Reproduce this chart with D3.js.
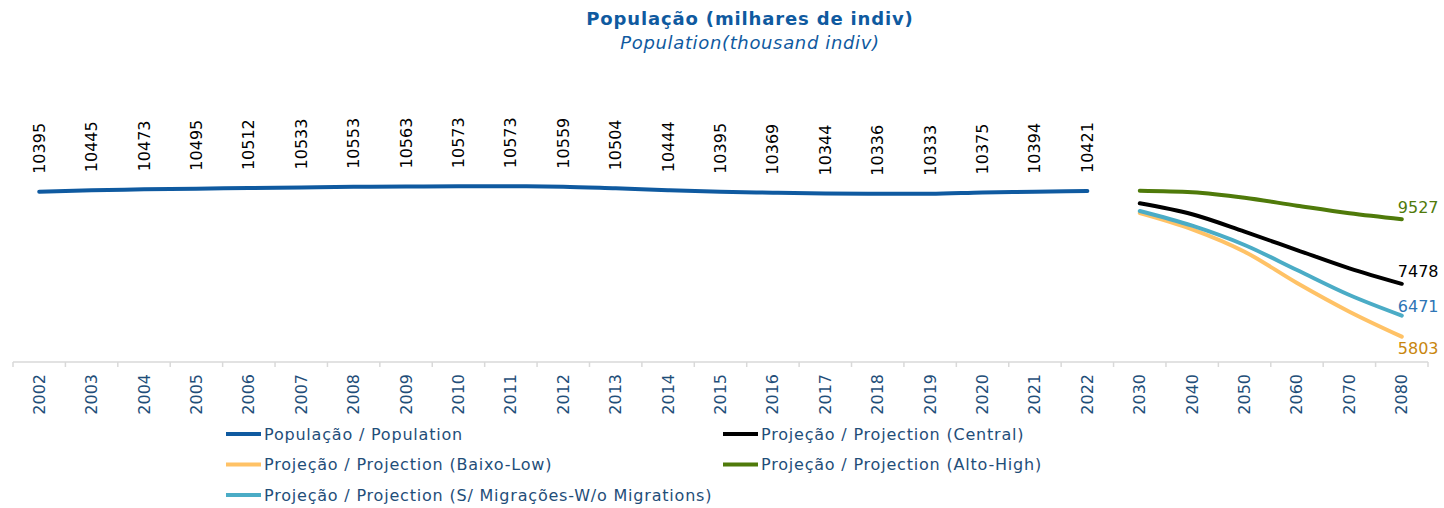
<!DOCTYPE html>
<html>
<head>
<meta charset="utf-8">
<script src="https://cdn.jsdelivr.net/npm/d3@7"></script>
<style>
  body { margin: 0; background: #fff; }
  svg { display: block; font-family: "DejaVu Sans", Verdana, sans-serif; }
</style>
</head>
<body>
<div id="chart"></div>
<script>
// categories
const years = ["2002","2003","2004","2005","2006","2007","2008","2009","2010","2011","2012",
  "2013","2014","2015","2016","2017","2018","2019","2020","2021","2022"];
const projYears = ["2030","2040","2050","2060","2070","2080"];

// series values (thousand indiv)
const population = [10395,10445,10473,10495,10512,10533,10553,10563,10573,10573,10559,
  10504,10444,10395,10369,10344,10336,10333,10375,10394,10421];
const projCentral = [10031,9682,9131,8550,7970,7478];
const projLow = [9723,9207,8497,7504,6595,5803];
const projHigh = [10430,10380,10208,9955,9714,9527];
const projNoMig = [9787,9321,8709,7916,7124,6471];

const W = 1444, H = 508;

const svg = d3.select("#chart")
  .append("svg")
  .attr("width", W)
  .attr("height", H);

const allCats = years.concat(projYears);

const x = d3.scaleBand()
  .domain(allCats)
  .range([13, 1428])
  .padding(0);

const y = d3.scaleLinear()
  .domain([5000, 11000])
  .range([362, 362 - 6000 / 31.7]);

const cx = d => x(d) + x.bandwidth() / 2;

// Title
svg.append("text")
  .attr("x", 750).attr("y", 25)
  .attr("text-anchor", "middle")
  .attr("font-size", 18).attr("font-weight", "bold")
  .attr("letter-spacing", 0.85)
  .attr("fill", "#0f5aa0")
  .text("População (milhares de indiv)");

svg.append("text")
  .attr("x", 750).attr("y", 49)
  .attr("text-anchor", "middle")
  .attr("font-size", 18).attr("font-style", "italic")
  .attr("letter-spacing", 0.65)
  .attr("fill", "#0f5aa0")
  .text("Population(thousand indiv)");

// X axis
const axisG = svg.append("g")
  .attr("transform", "translate(0,362)");

axisG.append("line")
  .attr("x1", x.range()[0]).attr("x2", x.range()[1])
  .attr("stroke", "#d9d9d9").attr("stroke-width", 1.5);

const bounds = allCats.map(c => x(c)).concat([x.range()[1]]);
axisG.selectAll(".tk")
  .data(bounds)
  .enter().append("line")
  .attr("x1", d => d).attr("x2", d => d)
  .attr("y1", 0).attr("y2", 5)
  .attr("stroke", "#d9d9d9").attr("stroke-width", 1.5);

axisG.selectAll(".lbl")
  .data(allCats)
  .enter().append("text")
  .attr("transform", d => `translate(${cx(d)},12) rotate(-90)`)
  .attr("text-anchor", "end")
  .attr("dominant-baseline", "central")
  .attr("font-size", 16)
  .attr("fill", "#1f4e79")
  .text(d => d);

// Lines
const line = d3.line()
  .curve(d3.curveMonotoneX)
  .x(d => cx(d.cat))
  .y(d => y(d.value));

const histData = years.map((c, i) => ({ cat: c, value: population[i] }));
const proj = (vals) => projYears.map((c, i) => ({ cat: c, value: vals[i] }));

const series = [
  { data: proj(projHigh), color: "#4f7a0a" },
  { data: proj(projCentral), color: "#000000" },
  { data: proj(projNoMig), color: "#4bacc6" },
  { data: proj(projLow), color: "#ffc266" }
];

// draw low before no-mig so cyan is on top
[series[3], series[2], series[1], series[0]].forEach(s => {
  svg.append("path")
    .datum(s.data)
    .attr("fill", "none")
    .attr("stroke", s.color)
    .attr("stroke-width", 4)
    .attr("stroke-linecap", "round")
    .attr("d", line);
});

svg.append("path")
  .datum(histData)
  .attr("fill", "none")
  .attr("stroke", "#0f5aa0")
  .attr("stroke-width", 4)
  .attr("stroke-linecap", "round")
  .attr("d", line);

// Historical data labels
svg.selectAll(".hl")
  .data(histData)
  .enter().append("text")
  .attr("transform", d => `translate(${cx(d.cat)},${y(d.value) - 18}) rotate(-90)`)
  .attr("text-anchor", "start")
  .attr("dominant-baseline", "central")
  .attr("font-size", 16)
  .attr("fill", "#000")
  .text(d => d.value);

// End labels of projections
const endLabels = [
  { v: projHigh[5], color: "#4f7a0a", dy: -12 },
  { v: projCentral[5], color: "#000000", dy: -12 },
  { v: projNoMig[5], color: "#2e75b6", dy: -9 },
  { v: projLow[5], color: "#c8860e", dy: 12 }
];
const lastCat = projYears[projYears.length - 1];
svg.selectAll(".el")
  .data(endLabels)
  .enter().append("text")
  .attr("x", cx(lastCat) - 4)
  .attr("y", d => y(d.v) + d.dy)
  .attr("dominant-baseline", "central")
  .attr("font-size", 16)
  .attr("fill", d => d.color)
  .text(d => d.v);

// Legend
const legendItems = [
  { label: "População / Population", color: "#0f5aa0", col: 0, row: 0 },
  { label: "Projeção / Projection (Central)", color: "#000000", col: 1, row: 0 },
  { label: "Projeção / Projection (Baixo-Low)", color: "#ffc266", col: 0, row: 1 },
  { label: "Projeção / Projection (Alto-High)", color: "#4f7a0a", col: 1, row: 1 },
  { label: "Projeção / Projection (S/ Migrações-W/o Migrations)", color: "#4bacc6", col: 0, row: 2 }
];
const colX = [226, 723];
const lg = svg.selectAll(".lg")
  .data(legendItems)
  .enter().append("g")
  .attr("transform", d => `translate(${colX[d.col]},${434 + d.row * 30.5})`);
lg.append("line")
  .attr("x1", 0).attr("x2", 35)
  .attr("stroke", d => d.color)
  .attr("stroke-width", 4);
lg.append("text")
  .attr("x", 38)
  .attr("dominant-baseline", "central")
  .attr("font-size", 16)
  .attr("letter-spacing", 0.8)
  .attr("fill", "#1f4e79")
  .text(d => d.label);
</script>
</body>
</html>
